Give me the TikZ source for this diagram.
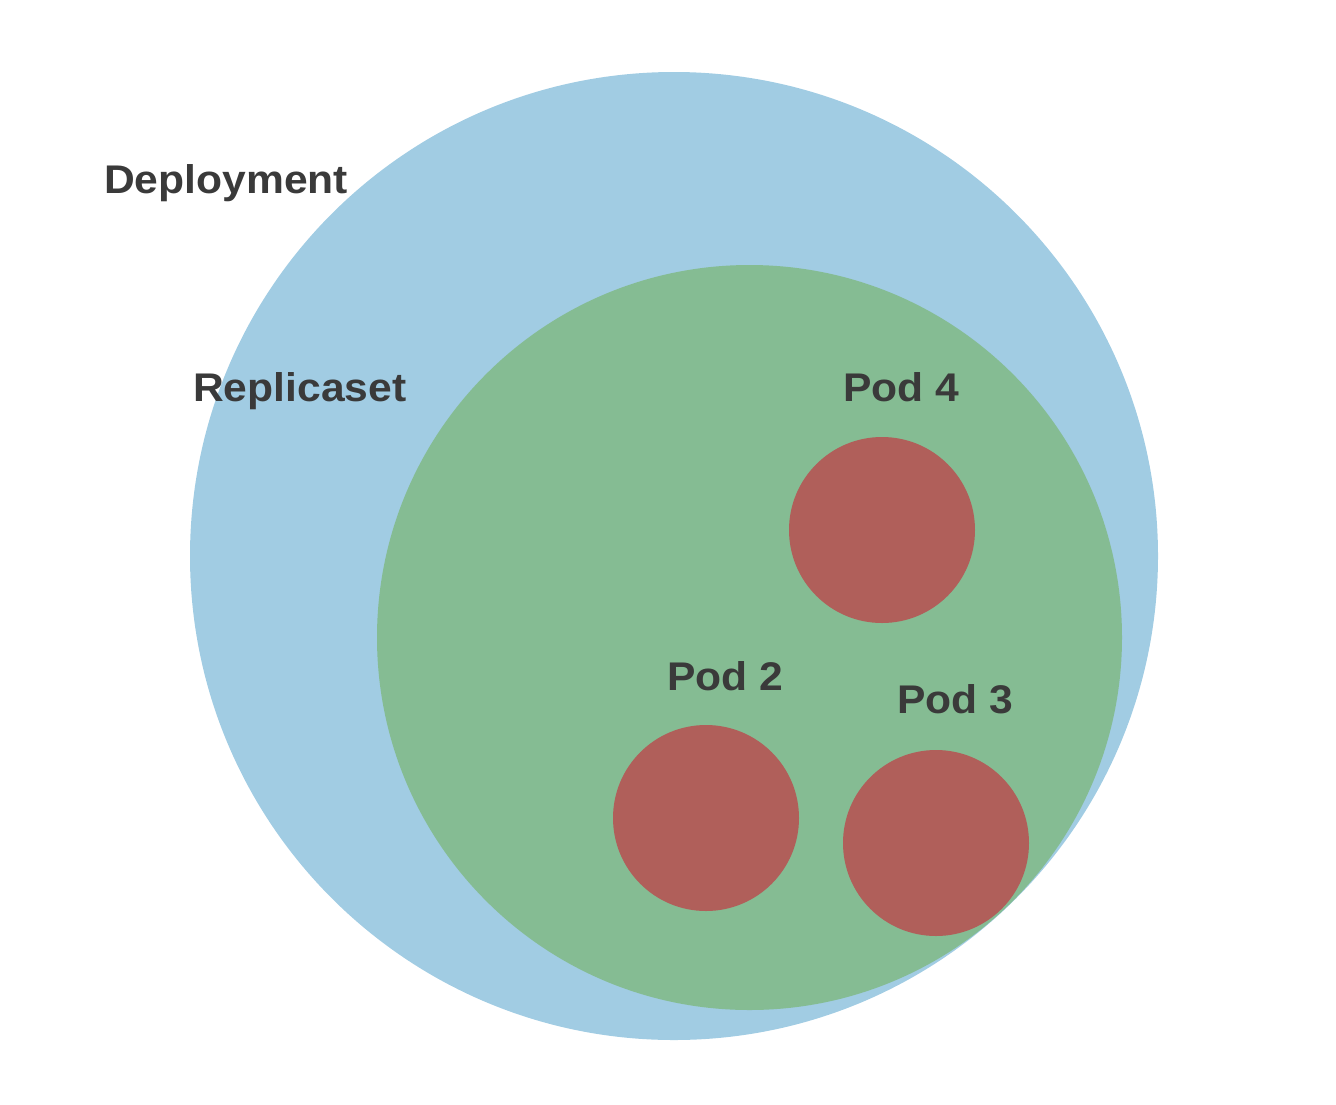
\documentclass[tikz,border=0pt]{standalone}
\usepackage{fontspec}
\setmainfont{Liberation Sans}
\definecolor{deployblue}{HTML}{A1CCE3}
\definecolor{replgreen}{HTML}{85BC93}
\definecolor{podred}{HTML}{B05F5A}
\definecolor{labelgray}{HTML}{3A3A3A}
\newcommand{\widetext}[1]{\scalebox{1.065}[1]{#1}}
\begin{document}
\begin{tikzpicture}[x=1pt,y=-1pt,
  blob/.style={circle,inner sep=0pt,draw=none},
  lbl/.style={anchor=base west,inner sep=0pt,text=labelgray,font=\fontsize{40}{40}\selectfont\bfseries}]
\useasboundingbox (0,0) rectangle (1336,1104);
\node[blob,fill=deployblue,minimum size=968pt] (deploy) at (674,556) {};
\node[blob,fill=replgreen,minimum size=745pt] (repl) at (749.5,637.5) {};
\node[blob,fill=podred,minimum size=186pt] (pod4) at (882,530) {};
\node[blob,fill=podred,minimum size=186pt] (pod2) at (706,818) {};
\node[blob,fill=podred,minimum size=186pt] (pod3) at (936,843) {};
\node[lbl] (tdeploy) at (104,193) {\widetext{Deployment}};
\node[lbl] (trepl) at (193,401) {\widetext{Replicaset}};
\node[lbl] (tpod4) at (843,401) {\widetext{Pod 4}};
\node[lbl] (tpod2) at (667,690) {\widetext{Pod 2}};
\node[lbl] (tpod3) at (897,713) {\widetext{Pod 3}};
\end{tikzpicture}
\end{document}
